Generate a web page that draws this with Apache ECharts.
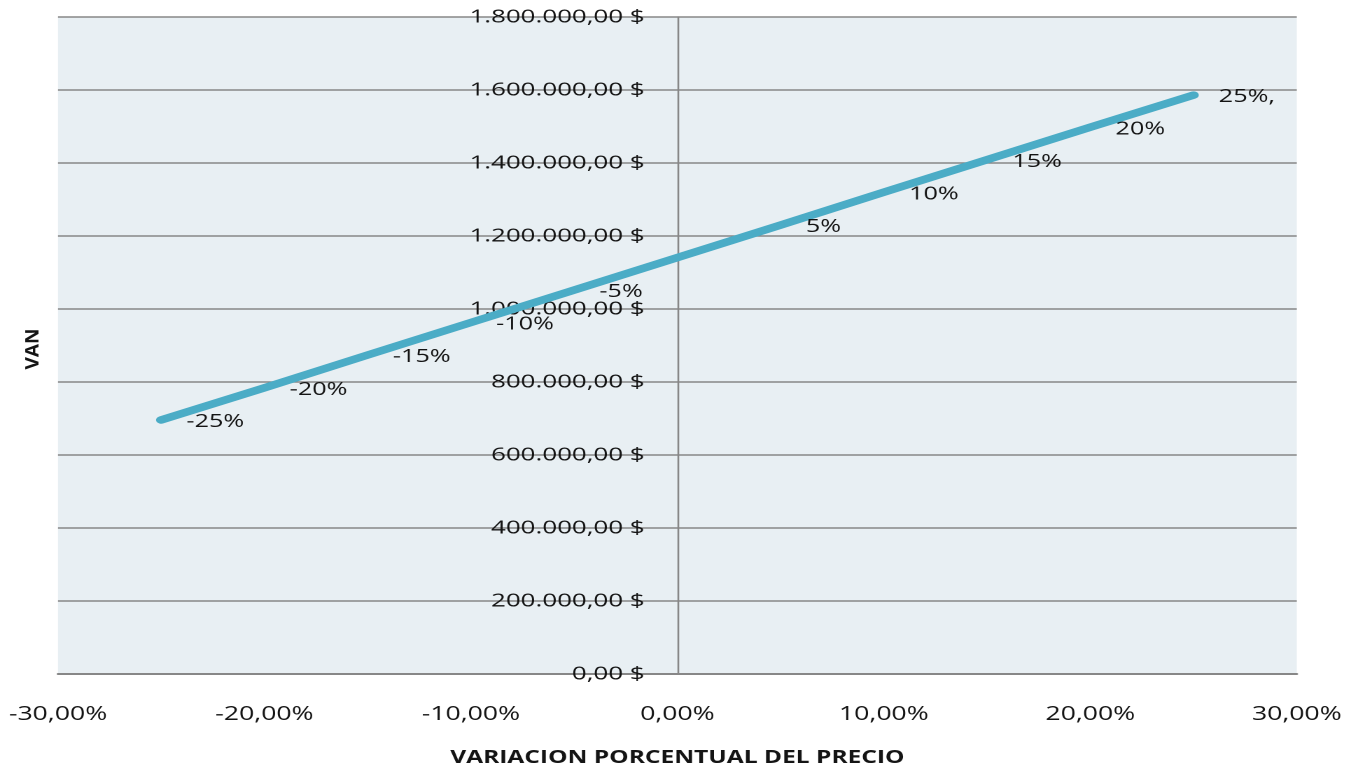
<!DOCTYPE html>
<html>
<head>
<meta charset="utf-8">
<title>VAN vs variación del precio</title>
<script src="https://cdn.jsdelivr.net/npm/echarts@6/dist/echarts.min.js"></script>
<style>
  html, body { margin: 0; padding: 0; background: #ffffff; overflow: hidden; }
  #chart { position: absolute; left: 0; top: 0; height: 767px; transform-origin: 0 0; }
</style>
</head>
<body>
<div id="chart"></div>
<script>
// Price variation (%) and resulting VAN
const priceChange = [-25, -20, -15, -10, -5, 5, 10, 15, 20, 25];
const vanValues = [696000, 784000, 874000, 963000, 1052000, 1230000, 1320000, 1409000, 1498000, 1586000];
const pointLabels = ['-25%', '-20%', '-15%', '-10%', '-5%', '5%', '10%', '15%', '20%', '25%,'];

const xTicks = { min: -30, max: 30, interval: 10 };
const yTicks = { min: 0, max: 1800000, interval: 200000 };

const xTitle = 'VARIACION PORCENTUAL DEL PRECIO';
const yTitle = 'VAN';

// The chart is laid out in a narrower box and widened horizontally,
// which gives the broad, stretched lettering of the original sheet.
const STRETCH = 1.4;
const PAGE_W = 1347;
const BOX_W = PAGE_W / STRETCH;

const GRID_LEFT = 58 / STRETCH;
const GRID_RIGHT = BOX_W - 1297 / STRETCH;
const PLOT_W = BOX_W - GRID_LEFT - GRID_RIGHT;
// the value axis sits where the price variation is zero
const ZERO_SHIFT = PLOT_W * (0 - xTicks.min) / (xTicks.max - xTicks.min);

const FONT = '"Open Sans", "Noto Sans", sans-serif';
const TEXT = '#141414';
const GRID = '#878787';

const el = document.getElementById('chart');
el.style.width = BOX_W + 'px';
el.style.transform = 'scaleX(' + STRETCH + ')';

function money(v) {
  const s = Math.round(v).toString().replace(/\B(?=(\d{3})+(?!\d))/g, '.');
  return s + ',00 $';
}
function percent(v) {
  return v.toFixed(2).replace('.', ',') + '%';
}

const chart = echarts.init(el, null, { renderer: 'canvas', devicePixelRatio: 2 });

chart.setOption({
  animation: false,
  backgroundColor: '#ffffff',
  grid: {
    left: GRID_LEFT,
    right: GRID_RIGHT,
    top: 17,
    bottom: 93,
    containLabel: false,
    outerBoundsMode: 'none',
    show: true,
    backgroundColor: '#e8eff3',
    borderWidth: 0
  },
  xAxis: {
    type: 'value',
    min: xTicks.min,
    max: xTicks.max,
    interval: xTicks.interval,
    name: xTitle,
    nameLocation: 'middle',
    nameGap: 75,
    nameTextStyle: { fontFamily: FONT, fontSize: 17.5, fontWeight: 'bold', color: TEXT },
    axisLine: { show: true, onZero: true, lineStyle: { color: GRID, width: 2 } },
    axisTick: { show: false },
    splitLine: { show: false },
    axisLabel: {
      formatter: percent,
      fontFamily: FONT,
      fontSize: 19,
      color: TEXT,
      margin: 31
    }
  },
  yAxis: {
    type: 'value',
    position: 'left',
    offset: -ZERO_SHIFT,
    min: yTicks.min,
    max: yTicks.max,
    interval: yTicks.interval,
    axisLine: { show: true, onZero: false, lineStyle: { color: GRID, width: 1.3 } },
    axisTick: { show: false },
    splitLine: { show: true, lineStyle: { color: GRID, width: 1.6 } },
    axisLabel: {
      formatter: money,
      fontFamily: FONT,
      fontSize: 18.5,
      color: TEXT,
      margin: 23.5
    }
  },
  graphic: [{
    type: 'text',
    x: 33 / STRETCH,
    y: 349,
    rotation: Math.PI / 2,
    scaleY: 1 / STRETCH,
    style: {
      text: yTitle,
      fontFamily: FONT,
      fontSize: 19,
      fontWeight: 'bold',
      fill: TEXT,
      align: 'center',
      verticalAlign: 'middle'
    }
  }],
  series: [{
    type: 'line',
    data: priceChange.map((x, i) => [x, vanValues[i]]),
    symbol: 'circle',
    symbolSize: 6,
    itemStyle: { color: '#4bacc6' },
    lineStyle: { color: '#4bacc6', width: 7.5, cap: 'round', join: 'round' },
    label: {
      show: true,
      position: 'right',
      distance: 15,
      offset: [0, 2],
      formatter: p => pointLabels[p.dataIndex],
      fontFamily: FONT,
      fontSize: 18,
      color: TEXT
    },
    emphasis: { disabled: true }
  }]
});
</script>
</body>
</html>
